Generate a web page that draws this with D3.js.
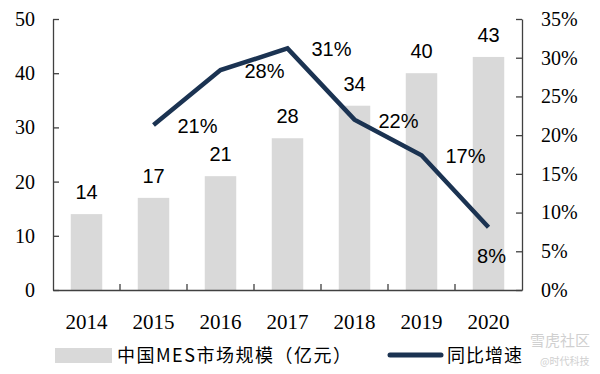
<!DOCTYPE html>
<html>
<head>
<meta charset="utf-8">
<script src="https://cdn.jsdelivr.net/npm/d3@7"></script>
<style>
  body { margin: 0; background: #fff; }
  svg { display: block; }
</style>
</head>
<body>
<div class="visHolder"></div>
<script>
const years = ['2014', '2015', '2016', '2017', '2018', '2019', '2020'];
const marketSize = [14, 17, 21, 28, 34, 40, 43];
const growthYears = ['2015', '2016', '2017', '2018', '2019', '2020'];
const growth = [21.3, 28.4, 31.2, 22.0, 17.4, 8.1];
const leftTicks = [0, 10, 20, 30, 40, 50];
const rightTicks = [0, 5, 10, 15, 20, 25, 30, 35];

const w = 600, h = 374;
const plotLeft = 53, plotRight = 522, plotTop = 19, plotBottom = 290;

const svg = d3.select('.visHolder')
  .append('svg')
  .attr('width', w)
  .attr('height', h);

const xScale = d3.scaleBand()
  .domain(years)
  .range([plotLeft, plotRight])
  .padding(0);
const barW = xScale.bandwidth() * 0.47;
const cx = d => xScale(d) + xScale.bandwidth() / 2;

const yLeft = d3.scaleLinear().domain([0, 50]).range([plotBottom, plotTop]);
const yRight = d3.scaleLinear().domain([0, 35]).range([plotBottom, plotTop]);

// bars
svg.selectAll('rect.bar')
  .data(years)
  .enter()
  .append('rect')
  .attr('class', 'bar')
  .attr('x', d => cx(d) - barW / 2)
  .attr('y', (d, i) => yLeft(marketSize[i]))
  .attr('width', barW)
  .attr('height', (d, i) => plotBottom - yLeft(marketSize[i]))
  .attr('fill', '#d9d9d9');

svg.selectAll('text.bar-label')
  .data(years)
  .enter()
  .append('text')
  .attr('x', d => cx(d))
  .attr('y', (d, i) => yLeft(marketSize[i]) - 15)
  .attr('text-anchor', 'middle')
  .style('font-family', 'Liberation Sans, Arial, sans-serif')
  .style('font-size', '20px')
  .attr('fill', '#000')
  .text((d, i) => marketSize[i]);

// axes
const axisColor = '#404040';
const styleAxis = g => {
  g.select('.domain').attr('stroke', axisColor).attr('stroke-width', 1.3);
  g.selectAll('.tick line').attr('stroke', axisColor).attr('stroke-width', 1.3);
  g.selectAll('.tick text')
    .attr('fill', '#000')
    .style('font-family', 'Liberation Serif, Times New Roman, serif')
    .style('font-size', '20px');
};

svg.append('g')
  .attr('transform', `translate(${plotLeft},0)`)
  .call(d3.axisLeft(yLeft).tickValues(leftTicks).tickSizeInner(-6).tickSizeOuter(0).tickPadding(18))
  .call(styleAxis);

svg.append('g')
  .attr('transform', `translate(${plotRight},0)`)
  .call(d3.axisRight(yRight).tickValues(rightTicks).tickSizeInner(-6).tickSizeOuter(0).tickPadding(19)
    .tickFormat(d => d + '%'))
  .call(styleAxis);

const xAxisG = svg.append('g')
  .attr('transform', `translate(0,${plotBottom})`)
  .call(d3.axisBottom(xScale).tickSize(0).tickPadding(24))
  .call(styleAxis);
xAxisG.selectAll('.tick text').style('font-size', '21px');

// category boundary ticks
svg.append('g')
  .selectAll('line')
  .data(years.slice(1))
  .enter()
  .append('line')
  .attr('x1', d => xScale(d))
  .attr('x2', d => xScale(d))
  .attr('y1', plotBottom)
  .attr('y2', plotBottom - 6)
  .attr('stroke', axisColor)
  .attr('stroke-width', 1.3);

// growth line
const lineColor = '#1b3352';
const line = d3.line()
  .x(d => cx(d))
  .y((d, i) => yRight(growth[i]));

svg.append('path')
  .datum(growthYears)
  .attr('d', line)
  .attr('fill', 'none')
  .attr('stroke', lineColor)
  .attr('stroke-width', 4.5)
  .attr('stroke-linejoin', 'miter');

svg.selectAll('text.growth-label')
  .data(growthYears)
  .enter()
  .append('text')
  .attr('x', (d, i) => cx(d) + (i === growthYears.length - 1 ? 3 : 44))
  .attr('y', (d, i) => yRight(growth[i]) + (i === growthYears.length - 1 ? 36 : 8))
  .attr('text-anchor', 'middle')
  .style('font-family', 'Liberation Sans, Arial, sans-serif')
  .style('font-size', '20px')
  .attr('fill', '#000')
  .text((d, i) => Math.round(growth[i]) + '%');

// legend
const legend = svg.append('g');
legend.append('rect')
  .attr('x', 55).attr('y', 348)
  .attr('width', 57).attr('height', 15)
  .attr('fill', '#d9d9d9');
legend.append('text')
  .attr('x', 117).attr('y', 362)
  .style('font-family', 'Noto Sans CJK SC, sans-serif')
  .style('font-size', '18px')
  .style('letter-spacing', '1.5px')
  .attr('fill', '#000')
  .text('中国MES市场规模（亿元）');
legend.append('line')
  .attr('x1', 390).attr('x2', 441)
  .attr('y1', 355).attr('y2', 355)
  .attr('stroke', lineColor)
  .attr('stroke-width', 5)
  .attr('stroke-linecap', 'round');
legend.append('text')
  .attr('x', 447).attr('y', 362)
  .style('font-family', 'Noto Sans CJK SC, sans-serif')
  .style('font-size', '18px')
  .style('letter-spacing', '1px')
  .attr('fill', '#000')
  .text('同比增速');

// watermark
svg.append('text')
  .attr('x', 530).attr('y', 346)
  .style('font-family', 'Noto Sans CJK SC, sans-serif')
  .style('font-size', '15px')
  .attr('fill', '#d0d0d0')
  .text('雪虎社区');
svg.append('text')
  .attr('x', 540).attr('y', 365)
  .style('font-family', 'Noto Sans CJK SC, sans-serif')
  .style('font-size', '10px')
  .attr('fill', '#d0d0d0')
  .text('@时代科技');
</script>
</body>
</html>
